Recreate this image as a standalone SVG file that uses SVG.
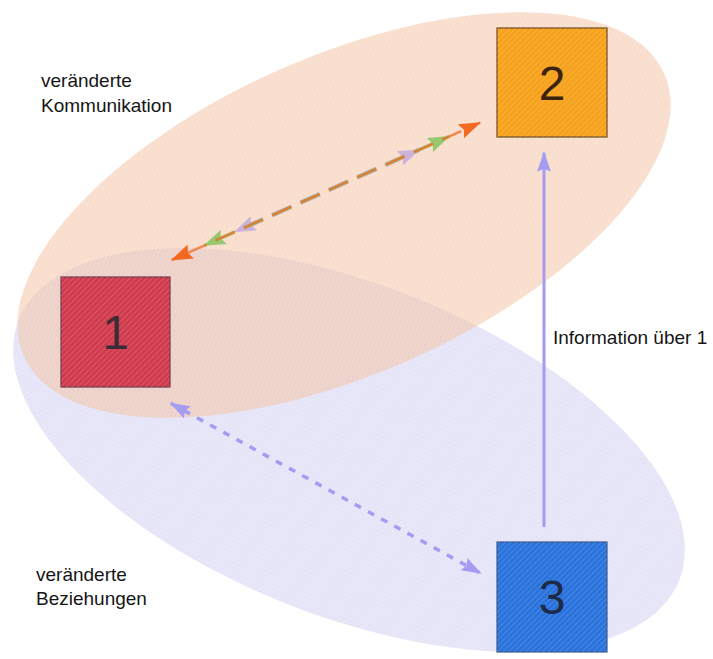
<svg xmlns="http://www.w3.org/2000/svg" width="713" height="659" viewBox="0 0 713 659">
  <style>
    .lbl { font-family: "Liberation Sans", Arial, sans-serif; font-size: 19px; fill: #151515; }
    .num { font-family: "Liberation Sans", Arial, sans-serif; font-size: 48px; text-anchor: middle; }
    .hatch { fill: url(#hatch); }
    .box { stroke-width: 1.2; }
    .dash12 { stroke-dasharray: 21 10; fill: none; }
  </style>
  <defs>
    <pattern id="hatch" width="4" height="4" patternUnits="userSpaceOnUse" patternTransform="rotate(45)">
      <line x1="0" y1="0" x2="0" y2="4" stroke="#ffffff" stroke-width="1" stroke-opacity="0.28"/>
    </pattern>
    <marker id="hOrange" viewBox="0 0 20 14" markerWidth="22" markerHeight="16" refX="19" refY="7" orient="auto-start-reverse" markerUnits="userSpaceOnUse">
      <path d="M0,0 L20,7 L0,14 L3,7 z" fill="#f26a22"/>
    </marker>
    <marker id="hGreen" viewBox="0 0 20 14" markerWidth="22" markerHeight="16" refX="19" refY="7" orient="auto-start-reverse" markerUnits="userSpaceOnUse">
      <path d="M0,0 L20,7 L0,14 L3,7 z" fill="#8cc464" fill-opacity="0.9"/>
    </marker>
    <marker id="hLav" viewBox="0 0 20 14" markerWidth="22" markerHeight="16" refX="19" refY="7" orient="auto-start-reverse" markerUnits="userSpaceOnUse">
      <path d="M0,0 L20,7 L0,14 L3,7 z" fill="#c6aade" fill-opacity="0.85"/>
    </marker>
    <marker id="hBlue" viewBox="0 0 20 14" markerWidth="20" markerHeight="15" refX="19" refY="7" orient="auto-start-reverse" markerUnits="userSpaceOnUse">
      <path d="M0,0 L20,7 L0,14 L3,7 z" fill="#a49cf0"/>
    </marker>
  </defs>

  <rect width="713" height="659" fill="#ffffff"/>

  <g id="region-beziehungen">
    <ellipse cx="349" cy="450" rx="355" ry="166" transform="rotate(21.5 349 450)" fill="#e6e5f8"/>
    <ellipse cx="349" cy="450" rx="355" ry="166" transform="rotate(21.5 349 450)" class="hatch"/>
  </g>
  <g id="region-kommunikation">
    <ellipse cx="344" cy="215" rx="350" ry="159" transform="rotate(-23.8 344 215)" fill="#f3bf9f" fill-opacity="0.52"/>
    <ellipse cx="344" cy="215" rx="350" ry="159" transform="rotate(-23.8 344 215)" class="hatch"/>
  </g>

  <g id="node1">
    <rect class="box" x="61" y="277" width="109" height="110" fill="#d03c4e" stroke="#74384a"/>
    <rect x="61" y="277" width="109" height="110" class="hatch"/>
    <text class="num" x="115.5" y="349" fill="#3c2c38">1</text>
  </g>
  <g id="node2">
    <rect class="box" x="497" y="28" width="110" height="109" fill="#f6a21c" stroke="#6b4a1f"/>
    <rect x="497" y="28" width="110" height="109" class="hatch"/>
    <text class="num" x="552" y="100" fill="#3a2410">2</text>
  </g>
  <g id="node3">
    <rect class="box" x="497" y="542" width="110" height="110" fill="#2a72dc" stroke="#3a5a8a"/>
    <rect x="497" y="542" width="110" height="110" class="hatch"/>
    <text class="num" x="552" y="614" fill="#1f2a48">3</text>
  </g>

  <g id="connectors">
    <line class="dash12" x1="234.7" y1="231.9" x2="419" y2="149.9" stroke="#c4a8dc" stroke-opacity="0.85" stroke-width="4.5" stroke-dashoffset="21" marker-start="url(#hLav)" marker-end="url(#hLav)"/>
    <line class="dash12" x1="204.6" y1="245.4" x2="449" y2="136.5" stroke="#8cc464" stroke-opacity="0.8" stroke-width="3.5" stroke-dashoffset="19" marker-start="url(#hGreen)" marker-end="url(#hGreen)"/>
    <line class="dash12" x1="171.7" y1="260" x2="480" y2="122.7" stroke="#f26a22" stroke-opacity="0.75" stroke-width="2.5" stroke-dashoffset="14" marker-start="url(#hOrange)" marker-end="url(#hOrange)"/>
    <line x1="170.7" y1="403.3" x2="480.7" y2="573.3" stroke="#a49cf0" stroke-width="3.5" stroke-dasharray="7 8" marker-start="url(#hBlue)" marker-end="url(#hBlue)"/>
    <line x1="544" y1="527" x2="544" y2="152.7" stroke="#a49cf0" stroke-width="3" marker-end="url(#hBlue)"/>
    <text class="lbl" x="553" y="344">Information über 1</text>
  </g>

  <g id="labels">
    <text class="lbl" x="41" y="87">veränderte</text>
    <text class="lbl" x="41" y="112">Kommunikation</text>
    <text class="lbl" x="36" y="581">veränderte</text>
    <text class="lbl" x="36" y="605">Beziehungen</text>
  </g>
</svg>
